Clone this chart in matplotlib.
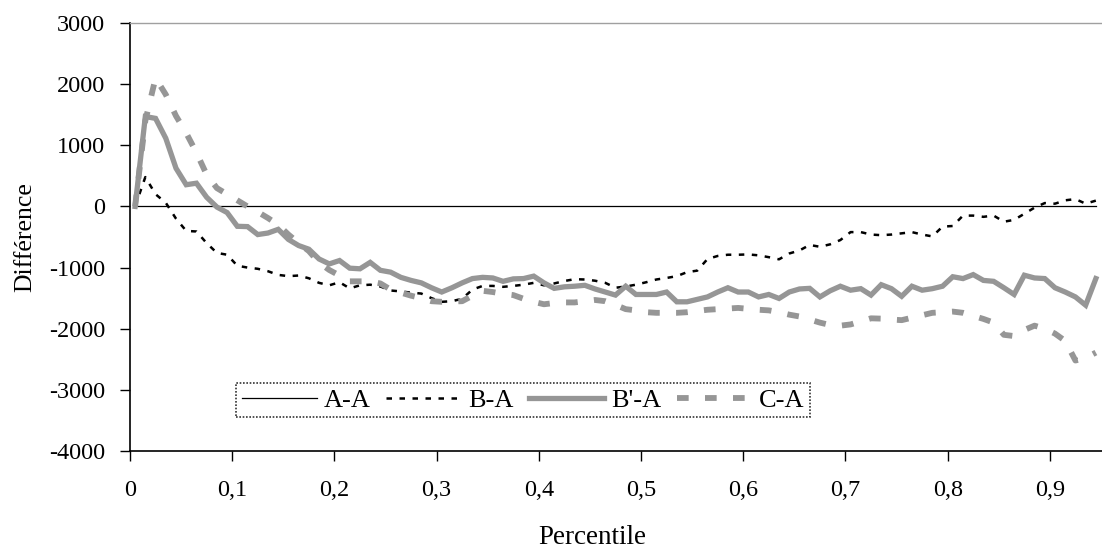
import numpy as np
import matplotlib
matplotlib.use("Agg")
import matplotlib.pyplot as plt
from matplotlib.ticker import FuncFormatter

plt.rcParams['font.family'] = ['Liberation Serif', 'DejaVu Serif']
plt.rcParams['axes.unicode_minus'] = False

# percentile positions (one point per percentile step)
percentile = [0.005 + 0.01 * k for k in range(95)]

a_a = [0] * 95

b_a = [0, 480, 200, 60, -200, -400, -410, -600, -760, -790,
       -970, -1000, -1020, -1060, -1120, -1140, -1130, -1175, -1250, -1290,
       -1240, -1340, -1290, -1280, -1310, -1375, -1390, -1410, -1425, -1500,
       -1560, -1550, -1510, -1360, -1300, -1300, -1315, -1300, -1280, -1250,
       -1290, -1260, -1220, -1190, -1195, -1215, -1250, -1330, -1310, -1280,
       -1240, -1195, -1170, -1140, -1075, -1050, -860, -810, -790, -790,
       -785, -800, -830, -865, -770, -720, -630, -660, -620, -550,
       -420, -420, -460, -470, -460, -440, -420, -460, -490, -330,
       -320, -150, -150, -170, -150, -250, -220, -120, -20, 55,
       45, 100, 120, 45, 95]

bp_a = [0, 1470, 1440, 1115, 625, 355, 380, 150, -10, -100,
        -325, -330, -460, -435, -375, -540, -640, -700, -860, -940,
        -885, -1010, -1020, -915, -1045, -1075, -1160, -1210, -1250, -1330,
        -1400, -1330, -1250, -1180, -1160, -1170, -1225, -1185, -1180, -1140,
        -1250, -1340, -1315, -1305, -1290, -1350, -1400, -1450, -1305, -1440,
        -1440, -1440, -1400, -1560, -1560, -1520, -1480, -1400, -1330, -1400,
        -1400, -1480, -1440, -1505, -1400, -1350, -1340, -1480, -1380, -1305,
        -1370, -1345, -1450, -1280, -1345, -1470, -1305, -1370, -1345, -1305,
        -1150, -1180, -1115, -1210, -1225, -1330, -1440, -1125, -1170, -1180,
        -1330, -1400, -1480, -1615, -1180]

c_a = [0, 1400, 2100, 1830, 1480, 1200, 880, 520, 300, 200,
       100, 0, -90, -190, -300, -460, -600, -730, -920, -1040,
       -1130, -1225, -1225, -1225, -1260, -1360, -1410, -1460, -1500, -1550,
       -1560, -1555, -1550, -1460, -1380, -1400, -1430, -1450, -1510, -1560,
       -1600, -1580, -1570, -1570, -1550, -1530, -1550, -1610, -1680, -1700,
       -1730, -1740, -1740, -1740, -1730, -1710, -1690, -1680, -1670, -1660,
       -1675, -1690, -1700, -1730, -1770, -1800, -1850, -1900, -1940, -1950,
       -1930, -1880, -1830, -1835, -1850, -1860, -1820, -1780, -1740, -1730,
       -1720, -1740, -1790, -1840, -1900, -2100, -2120, -2020, -1950, -2000,
       -2080, -2200, -2520, -2480, -2390]

series_labels = ["A-A", "B-A", "B'-A", "C-A"]
x_ticks = [0, 0.1, 0.2, 0.3, 0.4, 0.5, 0.6, 0.7, 0.8, 0.9]
y_ticks = [-4000, -3000, -2000, -1000, 0, 1000, 2000, 3000]

W, H = 1102, 549
fig = plt.figure(figsize=(W / 100, H / 100), dpi=100)
ax = fig.add_axes([130 / W, 1 - 451 / H, (W - 130) / W, (451 - 23) / H])

gray = '#969696'
l1, = ax.plot(percentile, a_a, color='black', lw=0.9, label=series_labels[0], zorder=2)
l2, = ax.plot(percentile, b_a, color='black', lw=1.8, dashes=(2.2, 3.0),
              dash_capstyle='butt', label=series_labels[1], zorder=3)
l3, = ax.plot(percentile, bp_a, color=gray, lw=3.8, solid_joinstyle='miter',
              label=series_labels[2], zorder=4)
l4, = ax.plot(percentile, c_a, color=gray, lw=4.2, dashes=(2.0, 2.8),
              dash_capstyle='butt', label=series_labels[3], zorder=3)

ax.set_xlim(0, 0.951)
ax.set_ylim(-4000, 3000)
ax.set_xticks(x_ticks)
ax.set_yticks(y_ticks)
ax.xaxis.set_major_formatter(FuncFormatter(
    lambda v, p: '0' if abs(v) < 1e-9 else ('%g' % round(v, 2)).replace('.', ',')))
ax.tick_params(axis='x', direction='out', length=7, width=1, pad=14, labelsize=17.5)
ax.tick_params(axis='y', direction='out', length=7, width=1, pad=11, labelsize=17.5)

ax.spines['right'].set_visible(False)
ax.spines['top'].set_color('#a0a0a0')
ax.spines['top'].set_linestyle((0, (1.5, 1)))
ax.spines['top'].set_linewidth(1)
ax.spines['left'].set_linewidth(1.2)
ax.spines['bottom'].set_linewidth(1.2)

ax.set_xlabel('Percentile', fontsize=19.5)
ax.xaxis.label.set_va('center')
ax.xaxis.set_label_coords((592 - 130) / 972, (451 - 537) / 428)
ax.set_ylabel('Différence', fontsize=18.5)
ax.yaxis.label.set_va('center')
ax.yaxis.set_label_coords((25 - 130) / 972, 0.5)

leg = fig.legend(handles=[l1, l2, l3, l4], loc='center', ncol=4,
                 bbox_to_anchor=(523 / W, 1 - 400 / H), fontsize=19,
                 frameon=True, fancybox=False, handlelength=2.85,
                 handletextpad=0.25, columnspacing=0.6, borderpad=0.2,
                 borderaxespad=0)
fr = leg.get_frame()
fr.set_edgecolor('black')
fr.set_linestyle((0, (1, 1)))
fr.set_linewidth(1.2)

fig.savefig('out.png', dpi=100)
